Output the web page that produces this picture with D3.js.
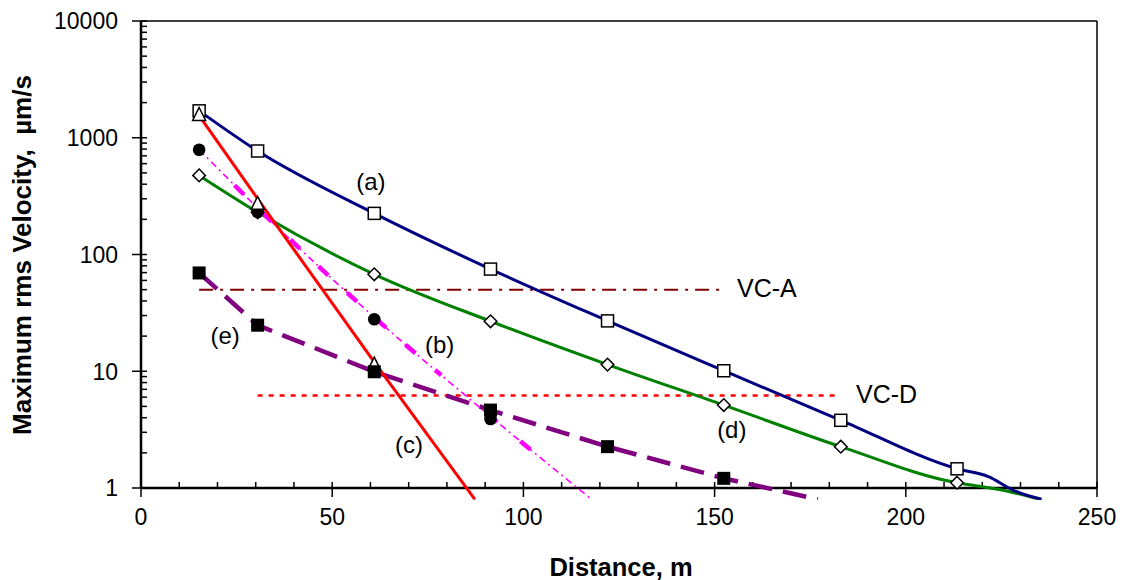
<!DOCTYPE html>
<html>
<head>
<meta charset="utf-8">
<script src="https://cdn.jsdelivr.net/npm/d3@7"></script>
<style>
  html, body { margin: 0; padding: 0; background: #fff; }
  svg { display: block; font-family: "Liberation Sans", Arial, sans-serif; }
</style>
</head>
<body>
<svg id="chart" width="1131" height="580"></svg>
<script>
// ---- data ----
const xTicks = [0, 50, 100, 150, 200, 250];
const yTicks = [1, 10, 100, 1000, 10000];

// (a) open squares
const aX = [15.2, 30.5, 61, 91.4, 122, 152.4, 183, 213.4];
const aY = [1700, 770, 225, 75, 27, 10.1, 3.8, 1.46];
const aLineX = [15.2, 30.5, 61, 91.4, 122, 152.4, 183, 213.4, 221.6, 228, 235.5];
const aLineY = [1700, 770, 225, 75, 27, 10.1, 3.8, 1.46, 1.25, 0.96, 0.8];

// (b) filled circles
const bX = [15.2, 30.5, 61, 91.4];
const bY = [790, 231, 27.9, 3.9];
const bLineX = [15.2, 30.5, 61, 91.4, 117.8];
const bLineY = [790, 250, 29, 4.1, 0.8];

// (c) open triangles
const cX = [15.2, 30.5, 61];
const cY = [1550, 269, 11.3];
const cLineX = [15.2, 30.5, 61, 87.3];
const cLineY = [1550, 300, 12, 0.8];

// (d) open diamonds
const dX = [15.2, 30.5, 61, 91.4, 122, 152.4, 183, 213.4];
const dY = [476, 230, 67.7, 26.8, 11.4, 5.13, 2.26, 1.11];
const dLineX = [15.2, 30.5, 61, 91.4, 122, 152.4, 183, 213.4, 217.2, 227.2, 235.1];
const dLineY = [476, 230, 67.7, 26.8, 11.4, 5.13, 2.26, 1.11, 1.06, 0.93, 0.8];

// (e) filled squares
const eX = [15.2, 30.5, 61, 91.4, 122, 152.4];
const eY = [69.5, 24.8, 9.9, 4.65, 2.26, 1.21];
const eLineX = [15.2, 30.5, 61, 91.4, 122, 152.4, 177];
const eLineY = [69.5, 24.8, 9.9, 4.65, 2.26, 1.21, 0.8];

// criteria lines
const vcaX = [15.2, 152.4], vcaY = 50;
const vcdX = [30.5, 182], vcdY = 6.2;

const labels = [
  {t: "(a)", x: 60.1, y: 354},
  {t: "(b)", x: 78.1, y: 14.3},
  {t: "(c)", x: 70.1, y: 1.99},
  {t: "(d)", x: 154.5, y: 2.68},
  {t: "(e)", x: 22, y: 17.2}
];

// ---- layout ----
const svg = d3.select("#chart");
const L = 141, R = 1097, T = 21, B = 488;
const x = d3.scaleLinear().domain([0, 250]).range([L, R]);
const y = d3.scaleLog().domain([1, 10000]).range([B, T]);

svg.append("defs").append("clipPath").attr("id", "clip")
  .append("rect").attr("x", L).attr("y", T).attr("width", R - L).attr("height", 500 - T);

// frame (top & right thin)
svg.append("line").attr("x1", L).attr("x2", R).attr("y1", T).attr("y2", T)
  .attr("stroke", "#000").attr("stroke-width", 1.5);
svg.append("line").attr("x1", R).attr("x2", R).attr("y1", T).attr("y2", B)
  .attr("stroke", "#000").attr("stroke-width", 1.5);

// x axis
const xMinor = d3.range(10, 250, 10).filter(v => v % 50 !== 0);
const gx = svg.append("g");
gx.selectAll(".mn").data(xMinor).join("line")
  .attr("x1", d => x(d)).attr("x2", d => x(d)).attr("y1", B).attr("y2", B - 6)
  .attr("stroke", "#000").attr("stroke-width", 1.5);
gx.selectAll(".mj").data(xTicks).join("line")
  .attr("x1", d => x(d)).attr("x2", d => x(d)).attr("y1", B - 6).attr("y2", B + 9)
  .attr("stroke", "#000").attr("stroke-width", 1.5);
gx.selectAll("text").data(xTicks).join("text")
  .attr("x", d => x(d)).attr("y", 525).attr("text-anchor", "middle")
  .attr("font-size", 23).text(d => d);

// y axis
const yMinor = [];
[1, 10, 100, 1000].forEach(dec => { for (let k = 2; k <= 9; k++) yMinor.push(dec * k); });
const gy = svg.append("g");
gy.selectAll(".mn").data(yMinor).join("line")
  .attr("x1", L).attr("x2", L + 6).attr("y1", d => y(d)).attr("y2", d => y(d))
  .attr("stroke", "#000").attr("stroke-width", 1.5);
gy.selectAll(".mj").data(yTicks).join("line")
  .attr("x1", L - 9).attr("x2", L + 6).attr("y1", d => y(d)).attr("y2", d => y(d))
  .attr("stroke", "#000").attr("stroke-width", 1.5);
gy.selectAll("text").data(yTicks).join("text")
  .attr("x", 118).attr("y", d => y(d)).attr("dy", "0.36em").attr("text-anchor", "end")
  .attr("font-size", 23).text(d => d);

// axis lines
svg.append("line").attr("x1", L).attr("x2", R).attr("y1", B).attr("y2", B)
  .attr("stroke", "#000").attr("stroke-width", 2.5);
svg.append("line").attr("x1", L).attr("x2", L).attr("y1", T).attr("y2", B)
  .attr("stroke", "#000").attr("stroke-width", 2.5);

// titles
svg.append("text").attr("x", 621).attr("y", 576).attr("text-anchor", "middle")
  .attr("font-size", 25.5).attr("font-weight", "bold").text("Distance, m");
svg.append("text").attr("transform", "translate(31,255) rotate(-90)")
  .attr("text-anchor", "middle").attr("font-size", 26).attr("font-weight", "bold")
  .attr("xml:space", "preserve").style("white-space", "pre")
  .text("Maximum rms Velocity,  \u00B5m/s");

// ---- lines ----
const plot = svg.append("g").attr("clip-path", "url(#clip)");
const zip = (xs, ys) => xs.map((v, i) => [v, ys[i]]);
const lineM = d3.line().x(d => x(d[0])).y(d => y(d[1])).curve(d3.curveMonotoneX);
const lineL = d3.line().x(d => x(d[0])).y(d => y(d[1]));

// criteria
plot.append("path").datum([[vcaX[0], vcaY], [vcaX[1], vcaY]]).attr("d", lineL)
  .attr("stroke", "#800000").attr("stroke-width", 2).attr("fill", "none")
  .attr("stroke-dasharray", "14,7,3,7");
plot.append("path").datum([[vcdX[0], vcdY], [vcdX[1], vcdY]]).attr("d", lineL)
  .attr("stroke", "#FF0000").attr("stroke-width", 2.5).attr("fill", "none")
  .attr("stroke-dasharray", "5,6");

// (d) green
plot.append("path").datum(zip(dLineX, dLineY)).attr("d", lineM)
  .attr("stroke", "#008000").attr("stroke-width", 3).attr("fill", "none");
// (a) navy
plot.append("path").datum(zip(aLineX, aLineY)).attr("d", lineM)
  .attr("stroke", "#000080").attr("stroke-width", 3).attr("fill", "none");
// (e) purple dashed
plot.append("path").datum(zip(eLineX, eLineY)).attr("d", lineL)
  .attr("stroke", "#800080").attr("stroke-width", 4.5).attr("fill", "none")
  .attr("stroke-dasharray", "24,11");
// (b) magenta thin dash-dot + thick dashes
plot.append("path").datum(zip(bLineX, bLineY)).attr("d", lineM)
  .attr("stroke", "#FF00FF").attr("stroke-width", 1.6).attr("fill", "none")
  .attr("stroke-dasharray", "7,4,2,4");
plot.append("path").datum(zip(bLineX, bLineY)).attr("d", lineM)
  .attr("stroke", "#FF00FF").attr("stroke-width", 4.5).attr("fill", "none")
  .attr("stroke-dasharray", "0,50,13,26,13,26,13,26,13,26,13,26,13,26,13,26,8,60,13,30,13,400");
// (c) red
plot.append("path").datum(zip(cLineX, cLineY)).attr("d", lineL)
  .attr("stroke", "#FF0000").attr("stroke-width", 3).attr("fill", "none");

// ---- markers ----
const mk = svg.append("g");
// diamonds (d)
mk.selectAll(".dia").data(zip(dX, dY)).join("path")
  .attr("d", d => {
    const cx = x(d[0]), cy = y(d[1]), r = 6.3;
    return `M${cx},${cy - r}L${cx + r},${cy}L${cx},${cy + r}L${cx - r},${cy}Z`;
  })
  .attr("fill", "#fff").attr("stroke", "#000").attr("stroke-width", 1.5);
// open squares (a)
mk.selectAll(".sq").data(zip(aX, aY)).join("rect")
  .attr("x", d => x(d[0]) - 6).attr("y", d => y(d[1]) - 6).attr("width", 12).attr("height", 12)
  .attr("fill", "#fff").attr("stroke", "#000").attr("stroke-width", 1.5);
// filled circles (b)
mk.selectAll(".ci").data(zip(bX, bY)).join("circle")
  .attr("cx", d => x(d[0])).attr("cy", d => y(d[1])).attr("r", 6.3).attr("fill", "#000");
// open triangles (c)
mk.selectAll(".tri").data(zip(cX, cY)).join("path")
  .attr("d", d => {
    const cx = x(d[0]), cy = y(d[1]);
    return `M${cx},${cy - 8}L${cx + 6.5},${cy + 5}L${cx - 6.5},${cy + 5}Z`;
  })
  .attr("fill", "#fff").attr("stroke", "#000").attr("stroke-width", 1.5);
// filled squares (e)
mk.selectAll(".fsq").data(zip(eX, eY)).join("rect")
  .attr("x", d => x(d[0]) - 6.5).attr("y", d => y(d[1]) - 6.5).attr("width", 13).attr("height", 13)
  .attr("fill", "#000");

// ---- labels ----
svg.selectAll(".lbl").data(labels).join("text")
  .attr("x", d => x(d.x)).attr("y", d => y(d.y)).attr("text-anchor", "middle")
  .attr("font-size", 24).text(d => d.t);
svg.append("text").attr("x", 737).attr("y", 297).attr("font-size", 25).text("VC-A");
svg.append("text").attr("x", 856).attr("y", 403).attr("font-size", 25).text("VC-D");
</script>
</body>
</html>
